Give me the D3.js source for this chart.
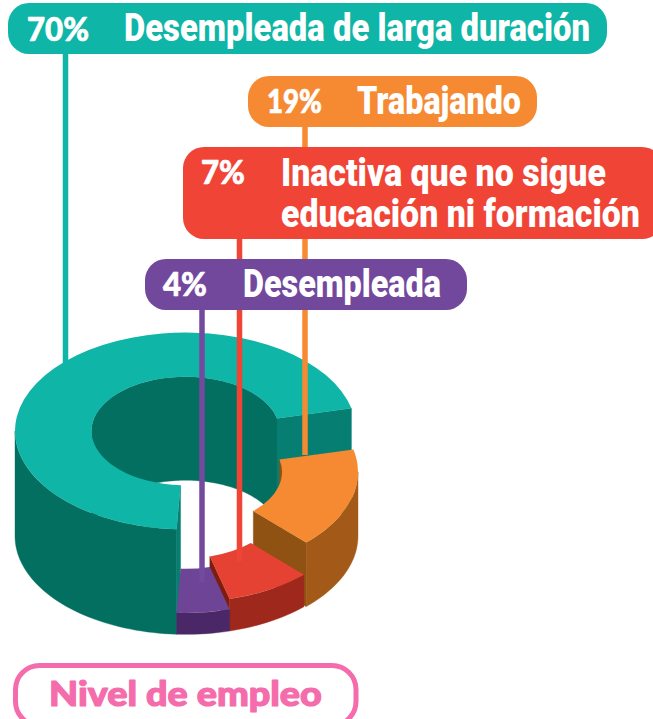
<!DOCTYPE html>
<html>
<head>
<meta charset="utf-8">
<style>html,body{margin:0;padding:0;background:#fff;overflow:hidden}svg{display:block}</style>
<script src="https://cdn.jsdelivr.net/npm/d3@7"></script>
</head>
<body>
<svg id="chart" width="653" height="719"></svg>
<script>
// ---- data
const categories = ["Desempleada de larga duración", "Trabajando", "Inactiva que no sigue educación ni formación", "Desempleada"];
const shares = [70, 19, 7, 4];
const percentLabels = ["70%", "19%", "7%", "4%"];
const sweepDegrees = [253.7, 59.3, 29, 18];
const title = "Nivel de empleo";

// ---- styles
const topColours  = ["#0FB5A6", "#F68A33", "#E54233", "#6E4596"];
const wallColours = ["#026F61", "#A35A18", "#9E281B", "#4A2766"];
const endColours  = ["#067F72", "#8F5213", "#7E1D0F", "#4A2766"];
const innerColours= ["#026F61", "#8F5213", "#7E1D0F", "#4A2766"];
const pillColours = ["#0FB5A6", "#F68A33", "#F04536", "#72489D"];
const lineColours = ["#0FB5A6", "#F68A33", "#F04536", "#744A9F"];
const pink = "#F46CAB";

// ---- layout
const cy = 431, tilt = 0.577, rInner = 94, depth = 105, innerDepth = 103.5;
const centreX = [185.5, 188, 185.5, 185.5];
const rOuter  = [170.5, 170, 170.5, 170.5];
const heightScale = d3.scaleLinear().domain([4, 7, 19, 70]).range([21.5, 32, 64, 105]);
const rad = d => d * Math.PI / 180;

const svg = d3.select("#chart");
const pie = d3.pie().value(d => d).sort(null).startAngle(rad(183)).endAngle(rad(543));
const arcs = pie(sweepDegrees);

const pt = (a, r, drop, cx) => [cx + r * Math.sin(a), cy - r * tilt * Math.cos(a) + drop];
const lineGen = d3.line();
function samples(a0, a1) {
  const n = Math.max(2, Math.ceil(Math.abs(a1 - a0) / rad(2)));
  return d3.range(n + 1).map(i => a0 + (a1 - a0) * i / n);
}
function wall(a0, a1, r, z0, z1, cx) {
  const s = samples(a0, a1);
  return lineGen(s.map(a => pt(a, r, z0, cx)).concat(s.slice().reverse().map(a => pt(a, r, z1, cx)))) + "Z";
}
function endFace(a, r0, r1, z0, z1, z1b, cx) {
  return lineGen([pt(a, r0, z0, cx), pt(a, r1, z0, cx), pt(a, r1, z1, cx), pt(a, r0, z1b, cx)]) + "Z";
}
function fill(g, d, c) { g.append("path").attr("d", d).attr("fill", c).attr("stroke", c).attr("stroke-width", 0.4); }

const donut = svg.append("g");
arcs.forEach((arc, i) => {
  const g = donut.append("g");
  const h = heightScale(shares[i]);
  const drop = depth - h, cx = centreX[i], ro = rOuter[i];
  const a0 = arc.startAngle, a1 = arc.endAngle;
  // inner wall is seen only on the far side
  const inFrom = Math.max(a0, rad(270)), inTo = Math.min(a1, rad(450));
  if (inTo > inFrom) fill(g, wall(inFrom, inTo, rInner, drop, innerDepth, cx), innerColours[i]);
  // end faces
  if (i === 0) {
    fill(g, endFace(a1, rInner, ro, drop, depth, innerDepth, cx), endColours[i]);
    fill(g, endFace(a0, rInner, ro, drop, depth, innerDepth, cx), endColours[i]);
  } else if (i < 3) {
    fill(g, endFace(a1, rInner, ro, drop, depth, innerDepth, cx), endColours[i]);
  }
  // outer wall is seen only on the near side
  const outFrom = Math.max(a0, i === 0 ? rad(183) : rad(450)), outTo = Math.min(a1, i === 0 ? rad(270) : rad(630));
  if (outTo > outFrom) fill(g, wall(outFrom, outTo, ro, drop, depth, cx), wallColours[i]);
  // top face
  const arcGen = d3.arc().innerRadius(rInner).outerRadius(ro);
  g.append("path").attr("d", arcGen(arc))
    .attr("transform", `translate(${cx},${cy + drop}) scale(1,${tilt})`)
    .attr("fill", topColours[i]);
});

// ---- leaders
const leaderX  = [65.5, 305, 239.5, 202];
const leaderY0 = [50, 120, 235, 305];
const leaderY1 = [363, 455, 561, 582];
svg.append("g").selectAll("line").data(shares).join("line")
  .attr("x1", (d, i) => leaderX[i]).attr("x2", (d, i) => leaderX[i])
  .attr("y1", (d, i) => leaderY0[i]).attr("y2", (d, i) => leaderY1[i])
  .attr("stroke", (d, i) => lineColours[i]).attr("stroke-width", 5.5);

// ---- pills
const pillBox = [[8, 3, 599, 51], [248, 76, 289, 51], [183, 147, 480, 92], [145, 259, 322, 51]];
svg.append("g").selectAll("rect").data(pillBox).join("rect")
  .attr("x", d => d[0]).attr("y", d => d[1]).attr("width", d => d[2]).attr("height", d => d[3])
  .attr("rx", 21).attr("fill", (d, i) => pillColours[i]);

// place a text at x,y and squeeze it horizontally to the width seen in the picture
function fit(sel, x, y, w) {
  sel.each(function(d, i) {
    const spans = this.querySelectorAll("tspan");
    const natural = spans.length ? d3.max(Array.from(spans), s => s.getComputedTextLength()) : this.getComputedTextLength();
    const sx = w(d, i) / natural;
    d3.select(this).attr("transform", `translate(${x(d, i)},${y(d, i)}) scale(${sx},1)`);
  });
}

const pctX = [[27, 62], [267, 55], [201, 44], [163, 44]];
const pctBase = [41, 113, 184, 296];
svg.append("g").selectAll("text").data(percentLabels).join("text")
  .text(d => d)
  .attr("font-family", "Lato, sans-serif").attr("font-weight", 900).attr("font-size", 33)
  .attr("fill", "#fff").attr("stroke", "#fff").attr("stroke-width", 0.7).attr("stroke-linejoin", "round")
  .call(fit, (d, i) => pctX[i][0], (d, i) => pctBase[i], (d, i) => pctX[i][1]);

const nameLines = [
  [[categories[0]], 124, 41, 466],
  [[categories[1]], 357, 114, 164],
  [["Inactiva que no sigue", "educación ni formación"], 281, 186, 359],
  [[categories[3]], 243, 297, 198]
];
svg.append("g").selectAll("text").data(nameLines).join("text")
  .attr("font-family", "Roboto, sans-serif").attr("font-weight", 900).attr("font-size", 38.5).attr("fill", "#fff")
  .each(function(d) {
    const t = d3.select(this);
    if (d[0].length === 1) t.text(d[0][0]);
    else d[0].forEach((s, k) => t.append("tspan").attr("x", 0).attr("dy", k ? 41 : 0).text(s));
  })
  .call(fit, d => d[1], d => d[2], d => d[3]);

// ---- title
svg.append("rect").attr("x", 15.5).attr("y", 665.5).attr("width", 340.5).attr("height", 60).attr("rx", 24)
  .attr("fill", "none").attr("stroke", pink).attr("stroke-width", 5);
svg.append("text").datum(title).text(d => d)
  .attr("font-family", "Lato, sans-serif").attr("font-weight", 900).attr("font-size", 35)
  .attr("fill", pink).attr("stroke", pink).attr("stroke-width", 1.2).attr("stroke-linejoin", "round")
  .call(fit, () => 49, () => 706, () => 273);
</script>
</body>
</html>
